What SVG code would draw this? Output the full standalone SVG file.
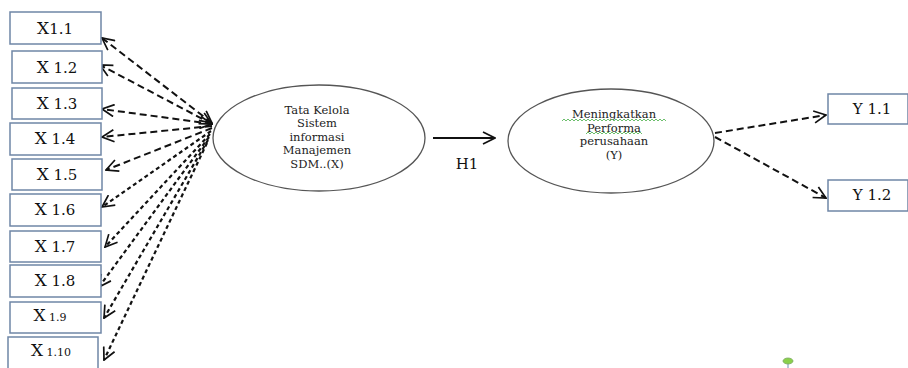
<svg xmlns="http://www.w3.org/2000/svg" width="908" height="368" viewBox="0 0 908 368">
<style>
.box{fill:#fff;stroke:#6f86a6;stroke-width:1.5}
.lbl{font-family:"DejaVu Serif","Liberation Serif",serif;font-size:15px;fill:#111;text-anchor:middle}
.big{font-size:17px}
.sm{font-size:11px}
.ell{fill:#fff;stroke:#555;stroke-width:1.3}
.et{font-family:"DejaVu Serif","Liberation Serif",serif;font-size:11.5px;fill:#222;text-anchor:middle}
.d{fill:none;stroke:#111;stroke-width:2;stroke-dasharray:7 4;marker-end:url(#oa)}
.d2{fill:none;stroke:#111;stroke-width:2.2;stroke-dasharray:4 3;marker-end:url(#oa)}
.sq{fill:none;stroke:#5cb85c;stroke-width:0.9}
</style>
<defs>
<marker id="oa" viewBox="0 0 14 14" refX="13" refY="7" markerWidth="14" markerHeight="14" markerUnits="userSpaceOnUse" orient="auto">
<path d="M1,1 L13,7 L1,13" fill="none" stroke="#111" stroke-width="1.7"/>
</marker>
<marker id="os" viewBox="0 0 14 14" refX="13" refY="7" markerWidth="14" markerHeight="14" markerUnits="userSpaceOnUse" orient="auto-start-reverse">
<path d="M1,1 L13,7 L1,13" fill="none" stroke="#111" stroke-width="1.7"/>
</marker>
</defs>
<rect width="908" height="368" fill="#fff"/>

<g id="connectors">
<line class="d" x1="212" y1="123" x2="102" y2="38" style="marker-start:url(#os)"/>
<line class="d" x1="212" y1="124" x2="100" y2="65" style="marker-start:url(#os)"/>
<line class="d" x1="212" y1="124" x2="102" y2="109" style="marker-start:url(#os)"/>
<line class="d" x1="212" y1="126" x2="102" y2="137"/>
<line class="d" x1="212" y1="128" x2="106" y2="170"/>
<line class="d2" x1="211" y1="131" x2="102" y2="207"/>
<line class="d2" x1="210" y1="134" x2="105" y2="247"/>
<line class="d2" x1="209" y1="137" x2="99" y2="287"/>
<line class="d2" x1="208" y1="140" x2="104" y2="318"/>
<line class="d2" x1="207" y1="143" x2="104" y2="360"/>
<line x1="433" y1="138" x2="495" y2="138" stroke="#111" stroke-width="2" style="marker-end:url(#oa)"/>
<line class="d" x1="715" y1="133" x2="826" y2="115"/>
<line class="d" x1="715" y1="137" x2="826" y2="198"/>
<text x="467" y="169" class="lbl" style="font-size:15px">H1</text>
</g>

<g id="x11"><rect class="box" x="10" y="12" width="91" height="32"/><text class="lbl" x="55" y="34"><tspan class="big">X</tspan>1.1</text></g>
<g id="x12"><rect class="box" x="12" y="51" width="90" height="32"/><text class="lbl" x="57" y="73"><tspan class="big">X</tspan> 1.2</text></g>
<g id="x13"><rect class="box" x="12" y="88" width="90" height="31"/><text class="lbl" x="57" y="109"><tspan class="big">X</tspan> 1.3</text></g>
<g id="x14"><rect class="box" x="10" y="123" width="91" height="32"/><text class="lbl" x="55" y="144"><tspan class="big">X</tspan> 1.4</text></g>
<g id="x15"><rect class="box" x="12" y="159" width="90" height="31"/><text class="lbl" x="57" y="180"><tspan class="big">X</tspan> 1.5</text></g>
<g id="x16"><rect class="box" x="10" y="194" width="91" height="32"/><text class="lbl" x="55" y="215"><tspan class="big">X</tspan> 1.6</text></g>
<g id="x17"><rect class="box" x="10" y="231" width="91" height="31"/><text class="lbl" x="55" y="252"><tspan class="big">X</tspan> 1.7</text></g>
<g id="x18"><rect class="box" x="10" y="265" width="91" height="32"/><text class="lbl" x="55" y="286"><tspan class="big">X</tspan> 1.8</text></g>
<g id="x19"><rect class="box" x="10" y="302" width="91" height="31"/><text class="lbl" x="50" y="321"><tspan class="big">X</tspan><tspan class="sm"> 1.9</tspan></text></g>
<g id="x110"><rect class="box" x="8" y="337" width="90" height="34"/><text class="lbl" x="51" y="356"><tspan class="big">X</tspan><tspan class="sm"> 1.10</tspan></text></g>

<g id="sdm">
<ellipse class="ell" cx="319" cy="138" rx="106" ry="53"/>
<text class="et" x="317" y="113.5">Tata Kelola</text>
<text class="et" x="317" y="127">Sistem</text>
<text class="et" x="317" y="140.5">informasi</text>
<text class="et" x="317" y="154">Manajemen</text>
<text class="et" x="317" y="167.5">SDM..(X)</text>
</g>

<g id="performa">
<ellipse class="ell" cx="611" cy="141" rx="103" ry="52"/>
<text class="et" x="614" y="118">Meningkatkan</text>
<polyline class="sq" points="562,121 564,119 566,121 568,119 570,121 572,119 574,121 576,119 578,121 580,119 582,121 584,119 586,121 588,119 590,121 592,119 594,121 596,119 598,121 600,119 602,121 604,119 606,121 608,119 610,121 612,119 614,121 616,119 618,121 620,119 622,121 624,119 626,121 628,119 630,121 632,119 634,121 636,119 638,121 640,119 642,121 644,119 646,121 648,119 650,121 652,119 654,121 656,119 658,121 660,119 662,121 664,119 666,121"/>
<text class="et" x="614" y="131.5">Performa</text>
<polyline class="sq" points="586,134 588,132 590,134 592,132 594,134 596,132 598,134 600,132 602,134 604,132 606,134 608,132 610,134 612,132 614,134 616,132 618,134 620,132 622,134 624,132 626,134 628,132 630,134 632,132 634,134 636,132 638,134 640,132 642,134"/>
<text class="et" x="614" y="145">perusahaan</text>
<text class="et" x="614" y="158.5">(Y)</text>
</g>

<g id="y11"><rect class="box" x="828" y="94" width="80" height="30"/><text class="lbl" x="872" y="114">Y 1.1</text></g>
<g id="y12"><rect class="box" x="828" y="180" width="80" height="31"/><text class="lbl" x="872" y="200">Y 1.2</text></g>

<g id="handle">
<line x1="788" y1="363" x2="788" y2="368" stroke="#6a8fb0" stroke-width="1"/>
<ellipse cx="788" cy="361" rx="5" ry="3" fill="#8ad04a" stroke="#7aa860" stroke-width="0.8"/>
</g>
</svg>
